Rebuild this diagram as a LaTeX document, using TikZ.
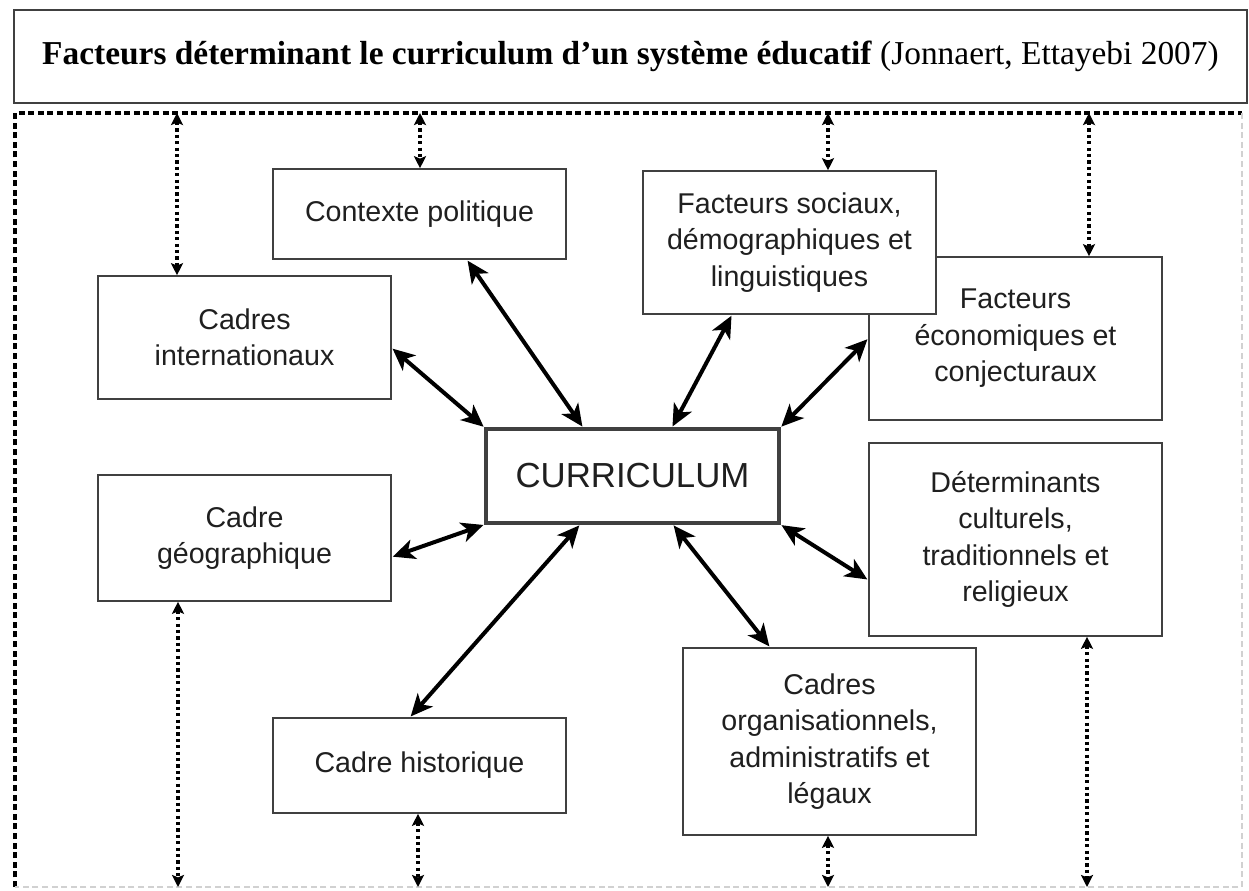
\documentclass[tikz,border=0pt]{standalone}
\usepackage{fontspec}
\setmainfont{Liberation Serif}
\setsansfont{Liberation Sans}
\usetikzlibrary{arrows.meta,calc}

\begin{document}
\begin{tikzpicture}[x=0.5pt,y=-0.5pt,
        facteur/.style={draw=black!75, line width=0.8pt, fill=white, align=center, inner sep=0pt,
            minimum width=146.5pt, text=black!88, font=\sffamily\fontsize{14.3}{18.2}\selectfont},
        lien/.style={line width=2pt, shorten <=0.5pt, shorten >=0.5pt,
            {Stealth[length=11pt,width=10pt,inset=3pt]}-{Stealth[length=11pt,width=10pt,inset=3pt]}},
        pointille/.style={line width=2pt, dash pattern=on 1.6pt off 1.6pt,
            {Stealth[length=6pt,width=6pt,inset=1.2pt]}-{Stealth[length=6pt,width=6pt,inset=1.2pt]}},
        cadre/.style={line width=1.6pt, dash pattern=on 3pt off 1.8pt}]
                        \useasboundingbox (0,0) rectangle (1249,890);

                        % titre et cadre pointille
                        \node [draw=black!75, line width=1.4pt, inner sep=0pt, minimum width=616.5pt, minimum height=46.5pt,
                               font=\fontsize{16.7}{19}\selectfont] (titre) at (630.5,56.5)
                              {\textbf{Facteurs déterminant le curriculum d’un système éducatif} (Jonnaert, Ettayebi 2007)};
                        \coordinate (hg) at (15,113);
                        \coordinate (hd) at (1242,113);
                        \coordinate (bg) at (15,887);
                        \coordinate (bd) at (1242,887);
                        \draw [cadre] (bg) -- (hg) -- (hd);
                        \draw [cadre, draw=black!18, line width=1pt] (hd) -- (bd) -- (bg);

                        % facteurs
                        \node [facteur, minimum height=45pt] (ctx) at (419.5,214) {Contexte politique};
                        \node [facteur, minimum height=61.5pt] (intl) at (244.5,337.5) {Cadres\\internationaux};
                        \node [facteur, minimum height=81.5pt] (eco) at (1015.5,338.5) {Facteurs\\économiques et\\conjecturaux};
                        \node [facteur, minimum height=71.5pt] (soc) at (789.5,242.5) {Facteurs sociaux,\\démographiques et\\linguistiques};
                        \node [facteur, minimum height=47pt, line width=1.6pt, font=\sffamily\fontsize{17.4}{20}\selectfont] (cur) at (632.5,476) {CURRICULUM};
                        \node [facteur, minimum height=63pt] (geo) at (244.5,538) {Cadre\\géographique};
                        \node [facteur, minimum height=96.5pt] (cult) at (1015.5,539.5) {Déterminants\\culturels,\\traditionnels et\\religieux};
                        \node [facteur, minimum height=47.5pt] (hist) at (419.5,765.5) {Cadre historique};
                        \node [facteur, minimum height=93.5pt] (org) at (829.5,741.5) {Cadres\\organisationnels,\\administratifs et\\légaux};

                        % liens avec le curriculum
                        \draw [lien] ($(ctx.south)+(47.5,0)$) -- ($(cur.north)+(-49.5,0)$);
                        \draw [lien] ($(intl.east)+(0,10.5)$) -- (cur.north west);
                        \draw [lien] ($(soc.south)+(-57.5,0)$) -- ($(cur.north)+(39.5,0)$);
                        \draw [lien] (eco.west) -- (cur.north east);
                        \draw [lien] ($(geo.east)+(0,19)$) -- (cur.south west);
                        \draw [lien] ($(hist.north)+(-9.5,0)$) -- ($(cur.south)+(-52.5,0)$);
                        \draw [lien] ($(org.north)+(-59.5,0)$) -- ($(cur.south)+(40.5,0)$);
                        \draw [lien] ($(cult.west)+(0,40.5)$) -- (cur.south east);

                        % liens avec le cadre
                        \foreach \n/\dx in {intl/-67.5, ctx/0.5, soc/38.5, eco/73.5}
                        {
                            \coordinate (b) at ($(\n.north)+(\dx,0)$);
                            \draw [pointille] (b |- hg) -- (b);
                        }
                        \foreach \n/\dx in {geo/-66.5, hist/-1.5, org/-1.5, cult/71.5}
                        {
                            \coordinate (b) at ($(\n.south)+(\dx,0)$);
                            \draw [pointille] (b) -- (b |- bg);
                        }
                    \end{tikzpicture}
\end{document}
